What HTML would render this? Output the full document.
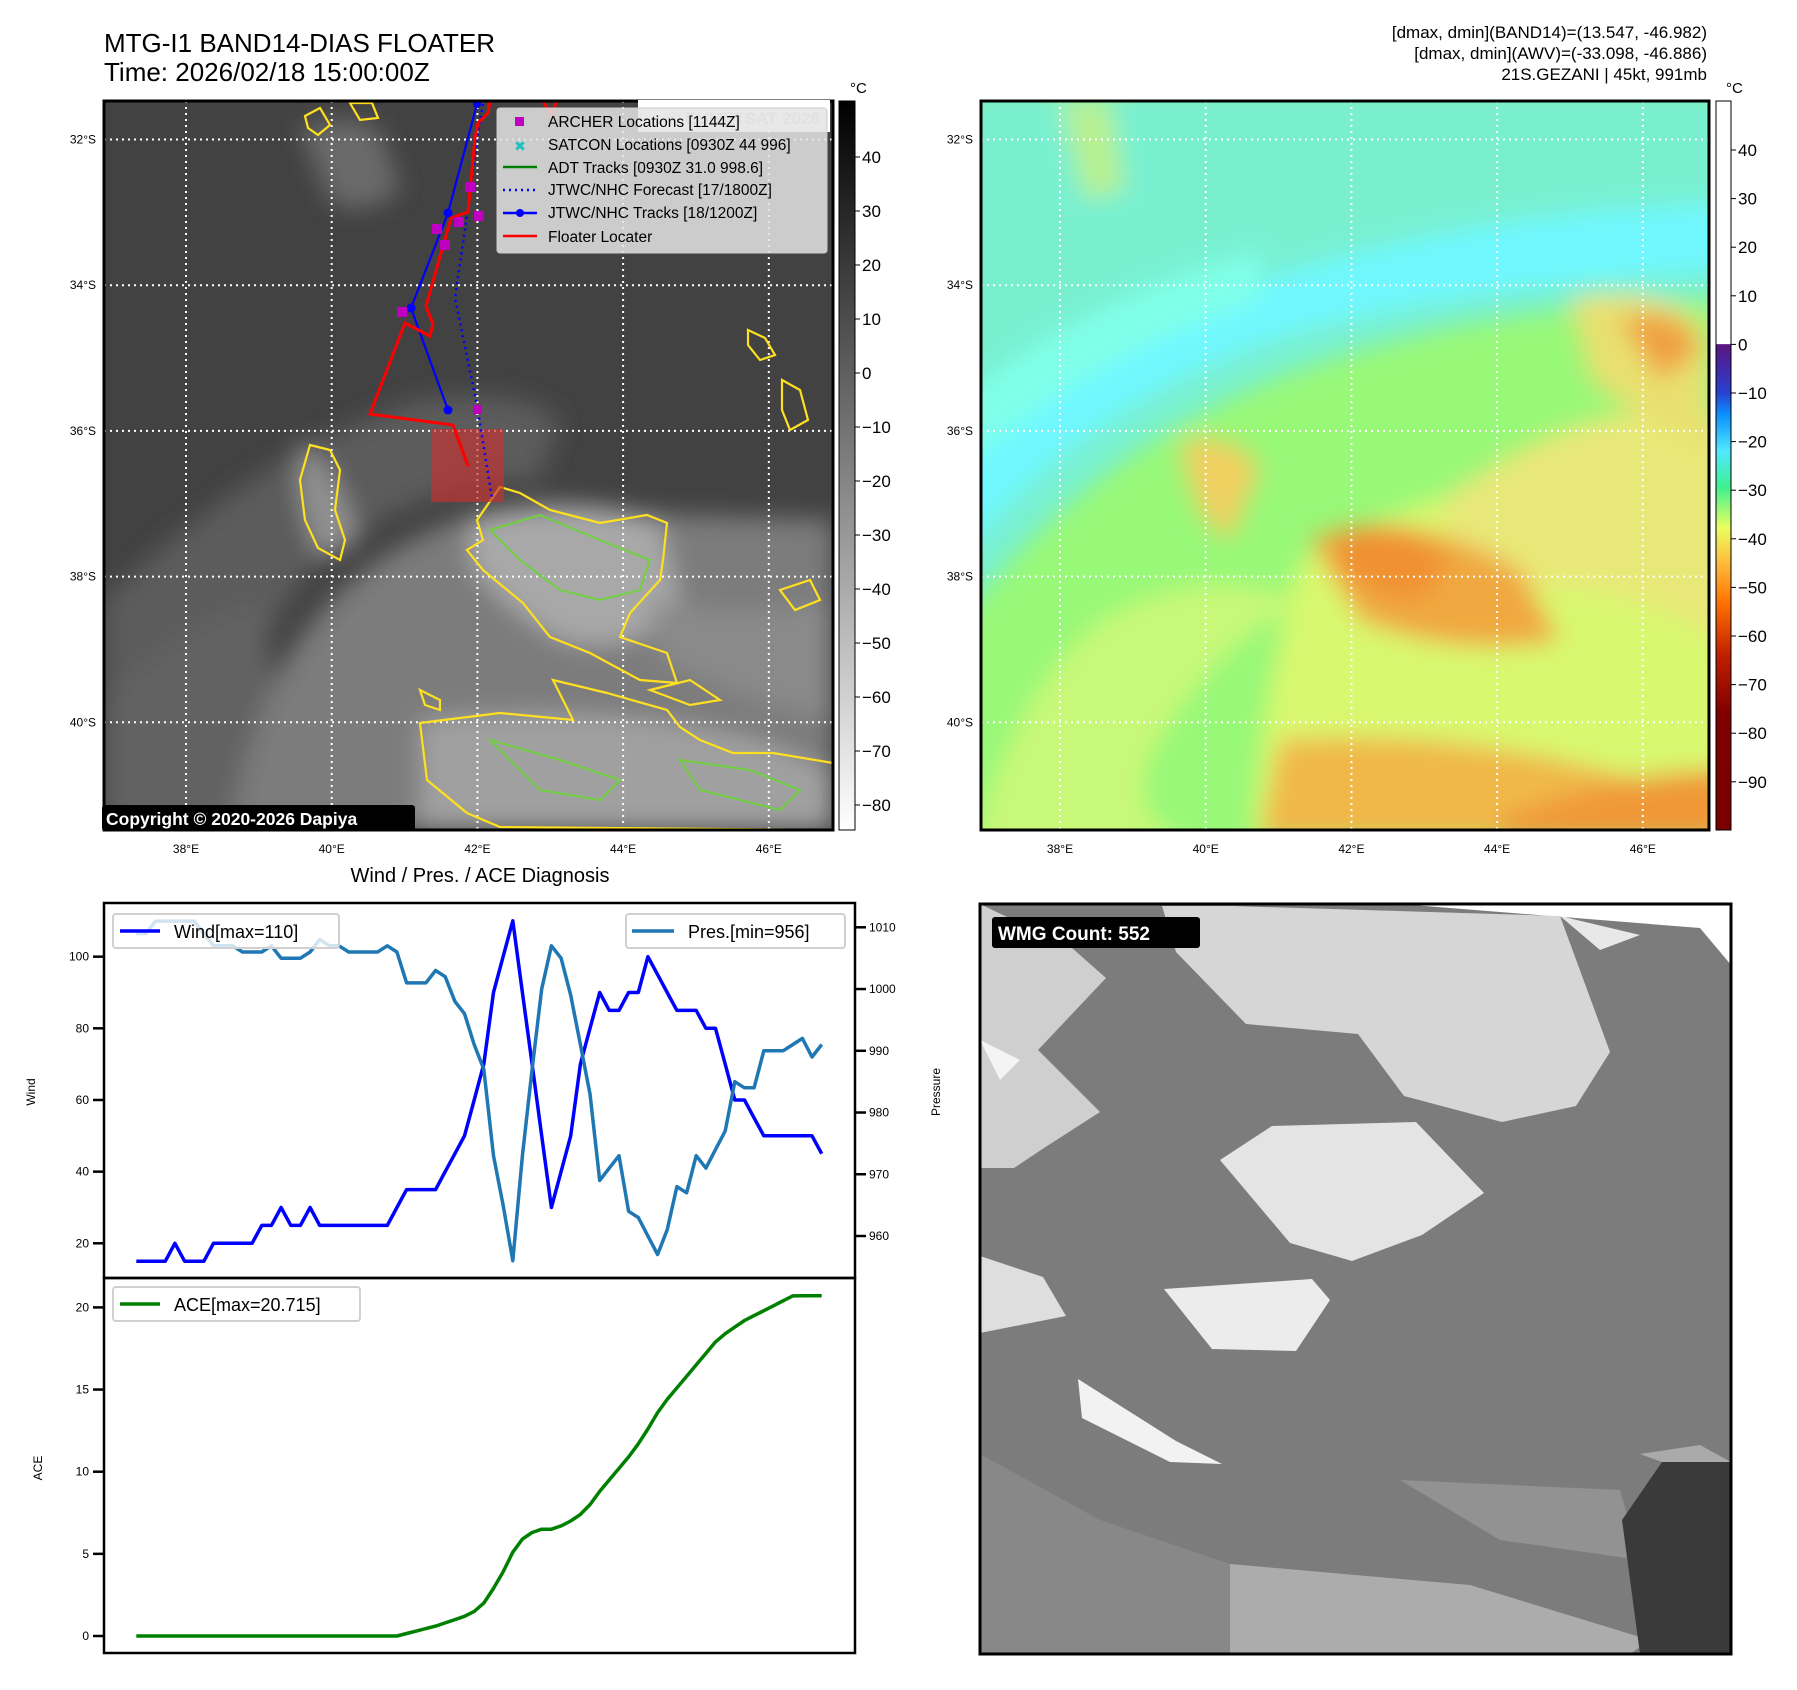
<!DOCTYPE html>
<html><head><meta charset="utf-8"><style>
html,body{margin:0;padding:0;background:#fff;}
svg{display:block;font-family:"Liberation Sans","DejaVu Sans",sans-serif;}
</style></head><body>
<svg id="fig" width="1797" height="1690" viewBox="0 0 1797 1690" xmlns="http://www.w3.org/2000/svg">
<defs>
<filter id="blur8" x="-20%" y="-20%" width="140%" height="140%"><feGaussianBlur stdDeviation="12"/></filter>
<filter id="blur4" x="-20%" y="-20%" width="140%" height="140%"><feGaussianBlur stdDeviation="5"/></filter>
<clipPath id="clipL"><rect x="104" y="101" width="729" height="729"/></clipPath>
<clipPath id="clipR"><rect x="981" y="101" width="728" height="729"/></clipPath>
<clipPath id="clipB"><rect x="980" y="904" width="750" height="750"/></clipPath>
<linearGradient id="cbGray" x1="0" y1="0" x2="0" y2="1"><stop offset="0" stop-color="#000"/><stop offset="1" stop-color="#fff"/></linearGradient>
<linearGradient id="cbColor" x1="0" y1="0" x2="0" y2="1">
<stop offset="0" stop-color="#fff"/><stop offset="0.333" stop-color="#fff"/>
<stop offset="0.334" stop-color="#5a1580"/><stop offset="0.40" stop-color="#2a40d0"/>
<stop offset="0.43" stop-color="#0a90ff"/><stop offset="0.48" stop-color="#50e8ff"/>
<stop offset="0.53" stop-color="#40f090"/><stop offset="0.585" stop-color="#e8ff60"/>
<stop offset="0.63" stop-color="#ffc040"/><stop offset="0.69" stop-color="#ff7000"/>
<stop offset="0.76" stop-color="#c02000"/><stop offset="0.84" stop-color="#800000"/>
<stop offset="1" stop-color="#7a0000"/></linearGradient>
</defs>

<text x="104" y="52" font-size="26" fill="#000">MTG-I1 BAND14-DIAS FLOATER</text>
<text x="104" y="81" font-size="26" fill="#000">Time: 2026/02/18 15:00:00Z</text>
<g font-size="17" text-anchor="end" fill="#000">
<text x="1707" y="38">[dmax, dmin](BAND14)=(13.547, -46.982)</text>
<text x="1707" y="59">[dmax, dmin](AWV)=(-33.098, -46.886)</text>
<text x="1707" y="80">21S.GEZANI | 45kt, 991mb</text>
</g>

<g id="leftMap">
<g clip-path="url(#clipL)">
<rect x="104" y="101" width="729" height="729" fill="#424242"/>
<g filter="url(#blur8)">
<path d="M104 600 Q260 450 420 400 Q520 385 560 420 L540 480 Q420 480 320 560 Q240 640 230 830 L104 830Z" fill="#5c5c5c"/>
<path d="M104 700 Q180 620 260 600 L300 830 L104 830Z" fill="#626262"/>
<path d="M300 130 Q340 110 380 130 L400 190 Q360 220 330 200Z" fill="#6a6a6a"/>
<path d="M230 830 Q260 640 380 560 Q440 520 500 510 L833 520 L833 830Z" fill="#7c7c7c"/>
<path d="M470 520 Q560 490 660 520 L680 600 Q640 660 560 640 Q490 600 470 560Z" fill="#a8a8a8"/>
<path d="M420 720 Q600 700 760 740 L833 770 L833 830 L420 830Z" fill="#a0a0a0"/>
<path d="M650 600 Q740 620 833 600 L833 720 Q740 700 660 660Z" fill="#8a8a8a"/>
<path d="M300 440 Q340 470 360 540 L320 560 Q290 500 300 440Z" fill="#909090"/>
</g>
<g id="gridL" stroke="#fff" stroke-width="2" stroke-dasharray="2,4" fill="none"></g>
<g fill="none" stroke="#ffe020" stroke-width="2.2">
<path d="M477 520 L500 487 L520 493 L550 510 L600 523 L647 515 L667 523 L663 560 L660 580 L630 613 L620 637 L667 653 L677 683 L640 680 L590 653 L550 637 L523 603 L483 570 L467 550 L483 540Z"/>
<path d="M420 723 L500 713 L573 720 L553 680 L607 693 L667 710 L680 727 L700 740 L733 753 L773 753 L833 763 L833 830 L500 827 L467 813 L427 780Z"/>
<path d="M310 445 L330 450 L340 470 L335 510 L345 540 L340 560 L318 548 L305 520 L300 480Z"/>
<path d="M305 116 L320 108 L330 125 L318 135 L308 128Z"/>
<path d="M350 103 L372 103 L378 118 L360 120Z"/>
<path d="M748 330 L765 338 L775 355 L760 360 L748 345Z"/>
<path d="M782 380 L800 390 L808 420 L790 430 L782 410Z"/>
<path d="M650 690 L690 680 L720 700 L690 705Z"/>
<path d="M780 590 L810 580 L820 600 L795 610Z"/>
<path d="M420 690 L440 700 L440 710 L425 705Z"/>
</g>
<g fill="none" stroke="#70d040" stroke-width="2">
<path d="M490 530 L540 515 L600 540 L650 560 L640 590 L600 600 L560 590 L520 560Z"/>
<path d="M490 740 L560 760 L620 780 L600 800 L540 790Z"/>
<path d="M680 760 L750 770 L800 790 L780 810 L700 790Z"/>
</g>
<rect x="431" y="429" width="73" height="73" fill="#c83030" fill-opacity="0.65"/>
<polyline points="483,104 478,132 467,215 455,298 477,405 492,498" fill="none" stroke="#0000ff" stroke-width="2.5" stroke-dasharray="2,4"/>
<polyline points="477,104 448,213 411,308 448,410" fill="none" stroke="#0000ff" stroke-width="2.2"/>
<g fill="#0000ff"><circle cx="477" cy="104" r="4"/><circle cx="448" cy="213" r="4.5"/><circle cx="411" cy="308" r="4.5"/><circle cx="448" cy="410" r="4.5"/></g>
<polyline points="490,101 488,113 478,123 475,138 468,212 451,218 426,306 433,324 430,336 405,323 370,414 453,425 468,466" fill="none" stroke="#ff0000" stroke-width="3"/>
<polyline points="543,101 551,115 557,101" fill="none" stroke="#ff0000" stroke-width="3"/>
<g fill="#c000c0">
<rect x="465" y="182" width="10" height="10"/><rect x="474" y="211" width="10" height="10"/><rect x="454" y="217" width="10" height="10"/><rect x="432" y="224" width="10" height="10"/><rect x="440" y="240" width="10" height="10"/><rect x="397" y="307" width="10" height="10"/><rect x="473" y="405" width="9" height="9"/>
</g>
</g>
<rect x="104" y="101" width="729" height="729" fill="none" stroke="#000" stroke-width="3"/>
<rect x="638" y="100" width="192" height="32" fill="#fff"/>
<text x="820" y="124" font-size="17" font-weight="bold" fill="#cfcfcf" text-anchor="end">© EUMETSAT 2026</text>
<g>
<rect x="497" y="108" width="330" height="145" rx="3" fill="#e4e4e4" fill-opacity="0.85" stroke="#ccc"/>
<rect x="515" y="117" width="9" height="9" fill="#c000c0"/>
<text x="520" y="151" font-size="14" font-weight="bold" fill="#20c0c0" text-anchor="middle">✖</text>
<line x1="503" y1="167" x2="537" y2="167" stroke="#008000" stroke-width="2.5"/>
<line x1="503" y1="190" x2="537" y2="190" stroke="#0000ff" stroke-width="2.5" stroke-dasharray="2,4"/>
<line x1="503" y1="213" x2="537" y2="213" stroke="#0000ff" stroke-width="2.5"/><circle cx="520" cy="213" r="4" fill="#0000ff"/>
<line x1="503" y1="236" x2="537" y2="236" stroke="#ff0000" stroke-width="2.5"/>
<g font-size="15.5" fill="#000">
<text x="548" y="127">ARCHER Locations [1144Z]</text>
<text x="548" y="150">SATCON Locations [0930Z 44 996]</text>
<text x="548" y="173">ADT Tracks [0930Z 31.0 998.6]</text>
<text x="548" y="195">JTWC/NHC Forecast [17/1800Z]</text>
<text x="548" y="218">JTWC/NHC Tracks [18/1200Z]</text>
<text x="548" y="242">Floater Locater</text>
</g></g>
<rect x="102" y="805" width="313" height="26" rx="3" fill="#000"/>
<text x="106" y="825" font-size="17.5" font-weight="bold" fill="#fff">Copyright © 2020-2026 Dapiya</text>
<g id="ticksL" font-size="12" fill="#000"></g>
<rect x="839" y="101" width="16" height="729" fill="url(#cbGray)" stroke="#000" stroke-width="1"/>
<text x="850" y="93" font-size="15" fill="#000">°C</text>
<g id="cbTicksL" font-size="17" fill="#000"></g>
</g>

<g id="rightMap">
<g clip-path="url(#clipR)">
<rect x="981" y="101" width="728" height="729" fill="#98f878"/>
<g filter="url(#blur8)">
<path d="M960 90 L1730 90 L1730 300 Q1500 300 1300 370 Q1100 440 960 620Z" fill="#78f0d0"/>
<path d="M960 560 Q1080 400 1300 330 Q1500 280 1730 270 L1730 205 Q1500 210 1300 270 Q1080 330 960 470Z" fill="#70f8ff"/>
<path d="M960 470 Q1080 360 1260 300 L1260 250 Q1080 300 960 400Z" fill="#80ffe8"/>
<path d="M1060 100 L1110 100 L1125 190 L1085 200Z" fill="#b8f090"/>
<path d="M960 900 Q1000 700 1100 620 Q1200 560 1300 600 Q1200 660 1150 760 Q1130 830 1200 840Z" fill="#c8f878"/>
<path d="M1300 560 Q1500 440 1730 480 L1730 840 L1250 840 Q1260 700 1300 560Z" fill="#d8f870"/>
<path d="M1440 500 Q1600 380 1730 420 L1730 650 Q1600 560 1470 600Z" fill="#e8e878"/>
<path d="M1310 540 Q1400 500 1520 570 L1560 640 Q1460 660 1360 620Z" fill="#f0a840"/>
<path d="M1340 540 Q1390 510 1450 560 L1420 600 Q1360 590 1340 570Z" fill="#f09030"/>
<path d="M1280 740 Q1420 730 1560 760 L1730 800 L1730 840 L1260 840Z" fill="#f0b848"/>
<path d="M1500 820 Q1620 770 1730 770 L1730 840 L1500 840Z" fill="#f09838"/>
<path d="M1180 440 Q1240 430 1260 470 L1230 540 Q1190 520 1180 440Z" fill="#f0d060"/>
<path d="M1570 300 Q1660 280 1709 330 L1709 450 Q1640 420 1590 380Z" fill="#e8e070"/>
<path d="M1620 320 Q1680 300 1700 350 L1660 380Z" fill="#f0a040"/>
</g>
<g id="gridR" stroke="#fff" stroke-width="2" stroke-dasharray="2,4" fill="none"></g>
</g>
<rect x="981" y="101" width="728" height="729" fill="none" stroke="#000" stroke-width="3"/>
<g id="ticksR" font-size="12" fill="#000"></g>
<rect x="1716" y="101" width="15" height="729" fill="url(#cbColor)" stroke="#000" stroke-width="1"/>
<text x="1726" y="93" font-size="15" fill="#000">°C</text>
<g id="cbTicksR" font-size="17" fill="#000"></g>
</g>

<g>
<g clip-path="url(#clipB)">
<rect x="980" y="904" width="750" height="750" fill="#7c7c7c"/>
<path d="M980 904 L1400 904 L1700 928 L1731 965 L1731 904Z" fill="#fff"/>
<path d="M1232 906 L1560 916 L1610 1052 L1576 1106 L1502 1122 L1404 1096 L1358 1034 L1246 1024 L1176 952 L1162 906Z" fill="#d6d6d6"/>
<path d="M1560 916 L1640 935 L1600 950Z" fill="#e8e8e8"/>
<path d="M1220 1160 L1272 1126 L1416 1122 L1484 1193 L1422 1235 L1352 1261 L1290 1243Z" fill="#e4e4e4"/>
<path d="M1164 1289 L1312 1279 L1330 1300 L1296 1351 L1212 1349Z" fill="#ececec"/>
<path d="M1078 1379 L1176 1441 L1222 1464 L1170 1462 L1082 1418Z" fill="#f2f2f2"/>
<path d="M980 904 L1072 948 L1106 978 L1038 1050 L1100 1112 L1044 1148 L1014 1168 L980 1168Z" fill="#cfcfcf"/>
<path d="M980 1256 L1043 1277 L1066 1316 L980 1333Z" fill="#dedede"/>
<path d="M980 1040 L1020 1060 L1000 1080Z" fill="#f4f4f4"/>
<path d="M1230 1564 L1470 1585 L1650 1640 L1630 1654 L1230 1654Z" fill="#acacac"/>
<path d="M1400 1480 L1620 1490 L1640 1560 L1500 1540Z" fill="#929292"/>
<path d="M1662 1462 L1731 1462 L1731 1654 L1640 1654 L1622 1520Z" fill="#3a3a3a"/>
<path d="M1640 1454 L1700 1445 L1731 1462 L1662 1462Z" fill="#aaa"/>
<path d="M980 1454 L1100 1520 L1230 1564 L1230 1654 L980 1654Z" fill="#888"/>
</g>
<rect x="980" y="904" width="751" height="750" fill="none" stroke="#000" stroke-width="3"/>
<rect x="992" y="917" width="208" height="31" rx="3" fill="#000"/>
<text x="998" y="940" font-size="19" font-weight="bold" fill="#fff">WMG Count: 552</text>
</g>

<g id="chart">
<text x="480" y="882" font-size="20" text-anchor="middle" fill="#000">Wind / Pres. / ACE Diagnosis</text>
<g id="marks"></g>
<rect x="104" y="903" width="751" height="375" fill="none" stroke="#000" stroke-width="2.5"/>
<rect x="104" y="1278" width="751" height="375" fill="none" stroke="#000" stroke-width="2.5"/>
<g id="axisTicks" font-size="12" fill="#000"></g>
<text transform="translate(35,1092) rotate(-90)" font-size="12" text-anchor="middle">Wind</text>
<text transform="translate(940,1092) rotate(-90)" font-size="12" text-anchor="middle">Pressure</text>
<text transform="translate(42,1468) rotate(-90)" font-size="12" text-anchor="middle">ACE</text>
<g>
<rect x="113" y="914" width="226" height="34" rx="3" fill="#fff" fill-opacity="0.8" stroke="#d0d0d0" stroke-width="2"/>
<line x1="120" y1="931" x2="160" y2="931" stroke="#0000ff" stroke-width="3.5"/>
<text x="174" y="938" font-size="18" fill="#000">Wind[max=110]</text>
</g>
<g>
<rect x="626" y="914" width="219" height="34" rx="3" fill="#fff" fill-opacity="0.8" stroke="#d0d0d0" stroke-width="2"/>
<line x1="632" y1="931" x2="674" y2="931" stroke="#1f77b4" stroke-width="3.5"/>
<text x="688" y="938" font-size="18" fill="#000">Pres.[min=956]</text>
</g>
<g>
<rect x="113" y="1287" width="247" height="34" rx="3" fill="#fff" fill-opacity="0.8" stroke="#d0d0d0" stroke-width="2"/>
<line x1="120" y1="1304" x2="160" y2="1304" stroke="#008000" stroke-width="3.5"/>
<text x="174" y="1311" font-size="18" fill="#000">ACE[max=20.715]</text>
</g>
</g>
</svg>
<script>
const windVals = [15,15,15,15,20,15,15,15,20,20,20,20,20,25,25,30,25,25,30,25,25,25,25,25,25,25,25,30,35,35,35,35,40,45,50,60,70,90,100,110,90,70,50,30,40,50,70,80,90,85,85,90,90,100,95,90,85,85,85,80,80,70,60,60,55,50,50,50,50,50,50,45];
const presVals = [1009,1009,1011,1011,1011,1011,1011,1009,1007,1007,1007,1006,1006,1006,1007,1005,1005,1005,1006,1008,1007,1007,1006,1006,1006,1006,1007,1006,1001,1001,1001,1003,1002,998,996,991,987,973,965,956,973,987,1000,1007,1005,999,991,983,969,971,973,964,963,960,957,961,968,967,973,971,974,977,985,984,984,990,990,990,991,992,989,991];
const aceVals = [0,0,0,0,0,0,0,0,0,0,0,0,0,0,0,0,0,0,0,0,0,0,0,0,0,0,0,0,0.15,0.3,0.45,0.6,0.8,1.0,1.2,1.5,2.0,2.9,3.9,5.1,5.9,6.3,6.5,6.5,6.7,7.0,7.4,8.0,8.8,9.5,10.2,10.9,11.7,12.6,13.6,14.4,15.1,15.8,16.5,17.2,17.9,18.4,18.8,19.2,19.5,19.8,20.1,20.4,20.7,20.715,20.715,20.715];
const windTicks = [20,40,60,80,100];
const presTicks = [960,970,980,990,1000,1010];
const aceTicks = [0,5,10,15,20];
const lonTicks = [38,40,42,44,46];
const latTicks = [32,34,36,38,40];
const cbGrayTicks = [40,30,20,10,0,-10,-20,-30,-40,-50,-60,-70,-80];
const cbColorTicks = [40,30,20,10,0,-10,-20,-30,-40,-50,-60,-70,-80,-90];

const NS = 'http://www.w3.org/2000/svg';
function mk(tag, attrs, parent){const e=document.createElementNS(NS,tag);for(const k in attrs)e.setAttribute(k,attrs[k]);parent.appendChild(e);return e;}
const xS = i => 136.3 + i*(821.7-136.3)/(windVals.length-1);
const yWind = w => 1243.3 - (w-20)*3.583;
const yPres = p => 927.3 + (1010-p)*6.174;
const yAce = a => 1636 - a*16.43;
const marks = document.getElementById('marks');
function line(vals, yf, color, name){
  const pts = vals.map((v,i)=>xS(i).toFixed(1)+','+yf(v).toFixed(1)).join(' ');
  const pl = mk('polyline',{points:pts,fill:'none',stroke:color,'stroke-width':3.5,'stroke-linejoin':'round'},marks);
  
  
}
line(aceVals, yAce, '#008000', 'ace-line');
line(windVals, yWind, '#0000ff', 'wind-line');
line(presVals, yPres, '#1f77b4', 'pressure-line');
const at = document.getElementById('axisTicks');
windTicks.forEach(t=>{const y=yWind(t);mk('line',{x1:93,y1:y,x2:104,y2:y,stroke:'#000','stroke-width':2.5},at);const tx=mk('text',{x:89,y:y+4,'text-anchor':'end'},at);tx.textContent=t;});
presTicks.forEach(t=>{const y=yPres(t);mk('line',{x1:855,y1:y,x2:866,y2:y,stroke:'#000','stroke-width':2.5},at);const tx=mk('text',{x:869,y:y+4},at);tx.textContent=t;});
aceTicks.forEach(t=>{const y=yAce(t);mk('line',{x1:93,y1:y,x2:104,y2:y,stroke:'#000','stroke-width':2.5},at);const tx=mk('text',{x:89,y:y+4,'text-anchor':'end'},at);tx.textContent=t;});

const lonX = (lon,x0) => x0 + (lon-38)*72.85;
const latY = lat => 139.5 + (lat-32)*72.85;
function grid(id,x0,left,right){
  const g=document.getElementById(id);
  lonTicks.forEach(l=>{const x=lonX(l,x0);mk('line',{x1:x,y1:101,x2:x,y2:830},g);});
  latTicks.forEach(l=>{const y=latY(l);mk('line',{x1:left,y1:y,x2:right,y2:y},g);});
}
grid('gridL',186,104,833); grid('gridR',1060,981,1709);
function ticks(id,x0,left){
  const g=document.getElementById(id);
  lonTicks.forEach(l=>{const t=mk('text',{x:lonX(l,x0),y:853,'text-anchor':'middle'},g);t.textContent=l+'°E';});
  latTicks.forEach(l=>{const t=mk('text',{x:left-8,y:latY(l)+4,'text-anchor':'end'},g);t.textContent=l+'°S';});
}
ticks('ticksL',186,104); ticks('ticksR',1060,981);
const gL=document.getElementById('cbTicksL');
cbGrayTicks.forEach(v=>{const y=157+(40-v)*5.4;mk('line',{x1:855,y1:y,x2:860,y2:y,stroke:'#000'},gL);const t=mk('text',{x:862,y:y+6},gL);t.textContent=v<0?'\u2212'+(-v):v;});
const gR=document.getElementById('cbTicksR');
cbColorTicks.forEach(v=>{const y=150+(40-v)*4.86;mk('line',{x1:1731,y1:y,x2:1736,y2:y,stroke:'#000'},gR);const t=mk('text',{x:1738,y:y+6},gR);t.textContent=v<0?'\u2212'+(-v):v;});
</script>
</body></html>
